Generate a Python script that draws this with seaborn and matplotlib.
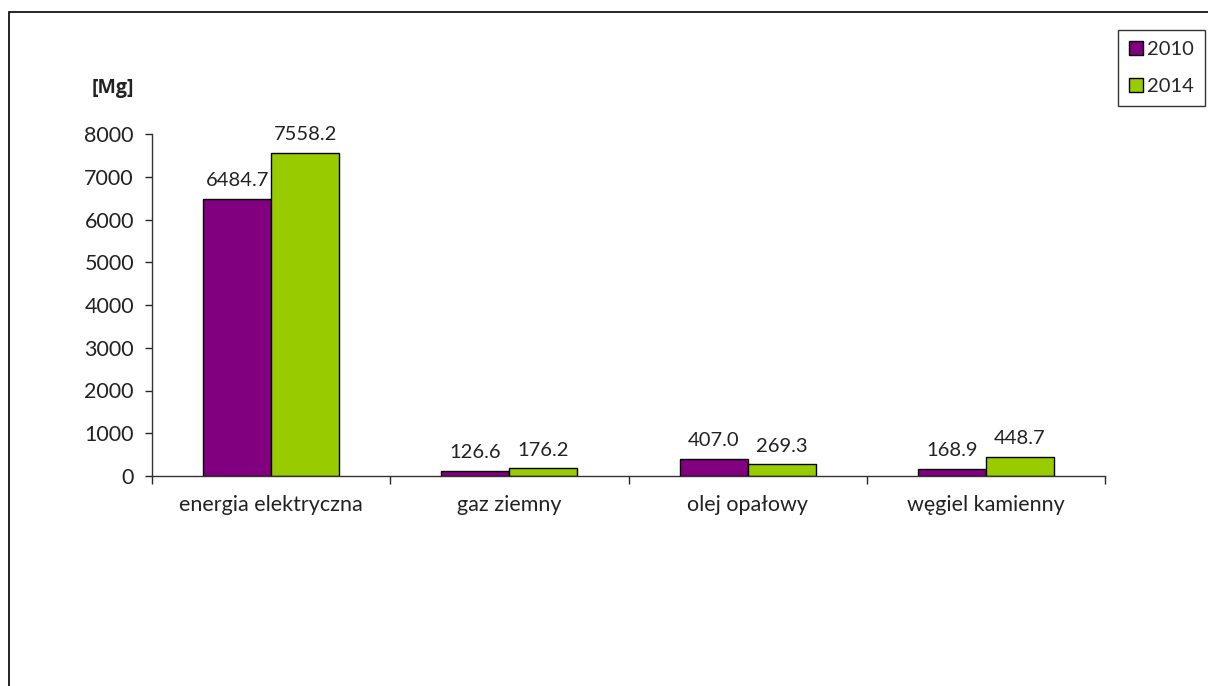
import pandas as pd
import seaborn as sns
import matplotlib.pyplot as plt
from matplotlib.patches import Rectangle

categories = ['energia elektryczna', 'gaz ziemny', 'olej opałowy', 'węgiel kamienny']
values_2010 = [6484.7, 126.6, 407.0, 168.9]
values_2014 = [7558.2, 176.2, 269.3, 448.7]
years = ['2010', '2014']
colors = ['#800080', '#99CC00']

df = pd.DataFrame({
    'kategoria': categories * 2,
    'rok': [years[0]] * 4 + [years[1]] * 4,
    'wartosc': values_2010 + values_2014,
})

sns.set_style('white')
plt.rcParams['font.family'] = ['Lato', 'DejaVu Sans']
fs = 15.5

fig = plt.figure(figsize=(12.08, 6.86), dpi=100)
ax = fig.add_axes([152 / 1208, 1 - 476 / 686, (1105 - 152) / 1208, (476 - 134) / 686])

sns.barplot(data=df, x='kategoria', y='wartosc', hue='rok', palette=colors,
            width=0.57, edgecolor='black', linewidth=1, ax=ax, saturation=1)

for cont in ax.containers:
    ax.bar_label(cont, fmt='%.1f', padding=7, fontsize=14.5, color='#222222')

ax.set_xlim(-0.5, 3.5)
ax.set_ylim(0, 8000)
ax.set_yticks(range(0, 8001, 1000))
ax.set_xlabel('')
ax.set_ylabel('')
ax.tick_params(axis='y', labelsize=fs, length=5, width=1, left=True, pad=8, labelcolor='#222222')
ax.tick_params(axis='x', which='major', labelsize=fs, length=0, pad=14, labelcolor='#222222')
ax.set_xticks([-0.5, 0.5, 1.5, 2.5, 3.5], minor=True)
ax.tick_params(axis='x', which='minor', length=6, width=1, bottom=True, direction='out')
for s in ['top', 'right']:
    ax.spines[s].set_visible(False)
for s in ['left', 'bottom']:
    ax.spines[s].set_color('#333333')
    ax.spines[s].set_linewidth(1)

fig.text(113 / 1208, 1 - 88 / 686, '[Mg]', fontsize=14, fontweight='bold',
         family=['Open Sans', 'DejaVu Sans'], ha='center', va='center', color='#222222')

leg = ax.legend(loc='upper right', bbox_to_anchor=(1205 / 1208, 1 - 30 / 686),
                bbox_transform=fig.transFigure, frameon=True, fancybox=False,
                fontsize=14.5, handlelength=0.7, handleheight=0.7,
                handletextpad=0.2, borderpad=0.55, labelspacing=1.0,
                borderaxespad=0)
leg.get_frame().set_edgecolor('black')
leg.get_frame().set_linewidth(1)

fig.patches.append(Rectangle((9 / 1208, -0.1), 1.2, 1.1 - 12 / 686,
                             transform=fig.transFigure, fill=False,
                             edgecolor='black', linewidth=1.2))

fig.savefig('out.png', dpi=100)
